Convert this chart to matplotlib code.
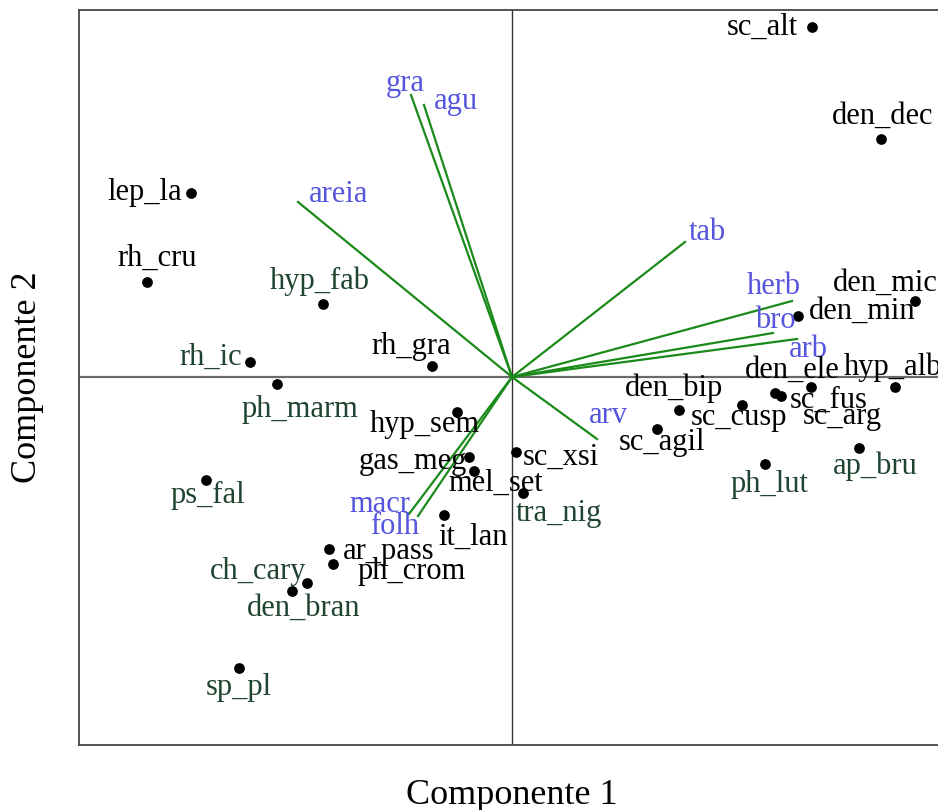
import numpy as np
import matplotlib
matplotlib.use("Agg")
import matplotlib.pyplot as plt

# species scores (component 1, component 2)
species = ["sc_alt", "den_dec", "lep_la", "rh_cru", "hyp_fab", "rh_ic", "rh_gra",
           "ph_marm", "hyp_sem", "gas_meg", "mel_set", "sc_xsi", "tra_nig", "it_lan",
           "ps_fal", "ar_pass", "ph_crom", "ch_cary", "den_bran", "sp_pl", "den_bip",
           "sc_agil", "sc_cusp", "den_ele", "sc_fus", "sc_arg", "hyp_alb", "ap_bru",
           "ph_lut", "den_min", "den_mic"]
sp_x = [3.00, 3.69, -3.21, -3.65, -1.89, -2.62, -0.80, -2.35, -0.55, -0.43, -0.38,
        0.04, 0.11, -0.68, -3.06, -1.83, -1.79, -2.05, -2.20, -2.73, 1.67, 1.45,
        2.30, 2.99, 2.63, 2.69, 3.83, 3.47, 2.53, 2.86, 4.03]
sp_y = [3.50, 2.38, 1.84, 0.95, 0.73, 0.15, 0.11, -0.07, -0.35, -0.80, -0.94,
        -0.75, -1.16, -1.38, -1.03, -1.72, -1.87, -2.06, -2.14, -2.91, -0.33, -0.52,
        -0.28, -0.10, -0.16, -0.19, -0.10, -0.71, -0.87, 0.61, 0.76]
green_text = {"hyp_fab", "rh_ic", "ph_marm", "ps_fal", "ch_cary", "den_bran",
              "sp_pl", "tra_nig", "ph_lut", "ap_bru"}

# habitat variable loadings
variables = ["gra", "agu", "areia", "tab", "herb", "bro", "arb", "arv", "macr", "folh"]
var_x = [-1.01, -0.88, -2.14, 1.73, 2.80, 2.61, 2.85, 0.85, -1.03, -0.94]
var_y = [2.82, 2.72, 1.75, 1.35, 0.76, 0.44, 0.38, -0.62, -1.37, -1.39]

# label placement (pixels, relative to the point)
sp_off = [(-50, 0), (2, 23), (-46, 0), (10, 24), (-3, 23), (-39, 5), (-21, 19),
          (23, -26), (-32, -13), (-56, -5), (22, -12), (45, -5), (36, -20), (29, -22),
          (2, -15), (60, -3), (79, -8), (-49, 11), (12, -17), (0, -20), (-5, 22),
          (5, -14), (-3, -13), (-19, 17), (54, -7), (61, -21), (-2, 20), (16, -18),
          (4, -21), (64, 5), (-30, 18)]
var_off = [(-6, 11), (32, 3), (41, 7), (22, 9), (-18, 14), (2, 12), (11, -11),
           (11, 23), (-29, 9), (-23, -11)]

plt.rcParams['font.family'] = ['Liberation Serif', 'DejaVu Serif']

fig = plt.figure(figsize=(9.38, 8.10), dpi=100)
# right edge of the frame falls outside the picture
ax = fig.add_axes([79 / 938, 65 / 810, 890 / 938, 735 / 810])
ax.set_xlim(-4.33, 4.57)
ax.set_ylim(-3.68, 3.67)

ax.axhline(0, color='#6a6a6a', linewidth=1.6, zorder=1)
ax.axvline(0, color='#333333', linewidth=1.0, zorder=1)

# arrows for variables
for vx, vy in zip(var_x, var_y):
    ax.plot([0, vx], [0, vy], color='#1a8a1a', linewidth=1.6, zorder=2)
for name, vx, vy, off in zip(variables, var_x, var_y, var_off):
    ax.annotate(name, (vx, vy), xytext=off, textcoords='offset pixels',
                ha='center', va='center', fontsize=22, color='#5555dd', zorder=4)

# species points
ax.scatter(sp_x, sp_y, s=45, color='black', zorder=3)
for name, sx, sy, off in zip(species, sp_x, sp_y, sp_off):
    c = '#1f4430' if name in green_text else 'black'
    ax.annotate(name, (sx, sy), xytext=off, textcoords='offset pixels',
                ha='center', va='center', fontsize=22, color=c, zorder=4,
                annotation_clip=False)

ax.set_xticks([])
ax.set_yticks([])
for s in ax.spines.values():
    s.set_color('#444444')
    s.set_linewidth(1.3)

fig.text(512 / 938, 1 - 795 / 810, "Componente 1", ha='center', va='center', fontsize=26)
fig.text(27 / 938, 1 - 377 / 810, "Componente 2", ha='center', va='center',
         rotation=90, fontsize=26)

plt.savefig('out.png', dpi=100)
